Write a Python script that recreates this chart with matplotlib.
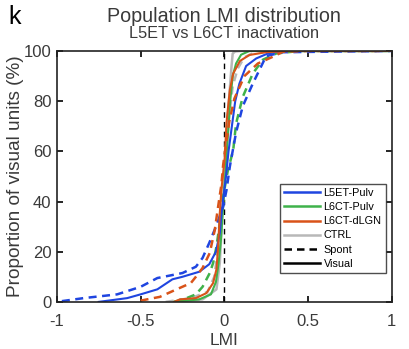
import matplotlib
matplotlib.use('Agg')
import matplotlib.pyplot as plt
from matplotlib.lines import Line2D

plt.rcParams['font.family'] = ['Liberation Sans', 'DejaVu Sans']

# cumulative distributions (LMI, % of units)
l5_vis_x = [-0.75, -0.58, -0.50, -0.40, -0.31, -0.25, -0.15, -0.09, -0.05, -0.027, -0.017, -0.005, 0.01, 0.025, 0.045, 0.065, 0.09, 0.13, 0.19, 0.26, 0.35, 1.0]
l5_vis_y = [0, 1.5, 3, 5, 9, 10, 12, 15, 20, 27.5, 35, 42, 50, 60, 70, 80, 87, 94, 97, 99, 100, 100]
l5_spo_x = [-0.97, -0.84, -0.64, -0.50, -0.40, -0.25, -0.17, -0.13, -0.09, -0.05, -0.007, 0.013, 0.033, 0.07, 0.11, 0.17, 0.25, 0.35, 1.0]
l5_spo_y = [0.3, 1.5, 3, 6, 9.5, 11.5, 14, 17.5, 23.5, 30, 38, 44.6, 54, 67.5, 78, 87, 98, 99.5, 100]

l6p_vis_x = [-0.30, -0.15, -0.08, -0.05, -0.035, -0.02, -0.005, 0.005, 0.015, 0.025, 0.035, 0.05, 0.07, 0.10, 0.15, 1.0]
l6p_vis_y = [0, 1, 3, 8, 15, 25, 40, 50, 60, 70, 80, 90, 95, 98.5, 100, 100]
l6p_spo_x = [-0.30, -0.225, -0.17, -0.13, -0.087, -0.067, -0.047, -0.027, -0.007, 0.02, 0.053, 0.07, 0.11, 0.17, 0.23, 0.31, 0.45, 1.0]
l6p_spo_y = [0, 1.5, 3, 6, 11.5, 15.5, 22, 31.5, 42, 52, 60.5, 71, 81.7, 91, 96.5, 99, 100, 100]

l6d_vis_x = [-0.30, -0.265, -0.17, -0.107, -0.067, -0.047, -0.037, -0.027, -0.017, 0.003, 0.013, 0.033, 0.053, 0.093, 0.15, 0.25, 0.40, 1.0]
l6d_vis_y = [0, 1, 1.5, 3.5, 7.5, 13, 22, 35.5, 45, 58, 71.5, 84.5, 91, 96, 98.4, 99.5, 100, 100]
l6d_spo_x = [-0.50, -0.385, -0.285, -0.20, -0.17, -0.13, -0.087, -0.057, -0.037, -0.017, -0.007, 0.01, 0.03, 0.06, 0.12, 0.20, 0.29, 0.35, 0.50, 0.93]
l6d_spo_y = [0.5, 2, 5, 7.5, 10, 13.5, 19.5, 28.7, 38, 47, 54.6, 63, 72, 81, 90, 95, 97.7, 99.7, 100, 100]

ctrl_vis_x = [-0.30, -0.13, -0.047, -0.027, -0.012, 0.0, 0.01, 0.02, 0.033, 0.043, 0.05, 0.065, 0.10, 1.0]
ctrl_vis_y = [0, 1, 5, 15.5, 35, 50, 62, 74, 85, 94, 99, 99.8, 100, 100]
ctrl_spo_x = [-0.35, -0.20, -0.10, -0.06, -0.035, -0.015, 0.0, 0.015, 0.03, 0.05, 0.08, 0.12, 0.20, 1.0]
ctrl_spo_y = [0, 1.5, 4, 10, 22, 38, 50, 63, 75, 86, 93, 97.5, 100, 100]

labels = ['L5ET-Pulv', 'L6CT-Pulv', 'L6CT-dLGN', 'CTRL', 'Spont', 'Visual']

blue = '#1f45e0'
green = '#3fb24a'
orange = '#d95319'
gray = '#b8b8b8'
txt = '#3a3a3a'

fig = plt.figure(figsize=(4.09, 3.49), dpi=100)
ax = fig.add_axes([0.139, 0.135, 0.819, 0.719])

dash = (0, (3.2, 2.2))
ax.plot([0, 0], [0, 100], color='k', lw=1.0, ls=(0, (4, 3)), zorder=1)

ax.plot(ctrl_spo_x, ctrl_spo_y, color=gray, lw=1.8, ls=dash)
ax.plot(ctrl_vis_x, ctrl_vis_y, color=gray, lw=1.8)
ax.plot(l6p_spo_x, l6p_spo_y, color=green, lw=1.8, ls=dash)
ax.plot(l6p_vis_x, l6p_vis_y, color=green, lw=1.5)
ax.plot(l5_spo_x, l5_spo_y, color=blue, lw=1.8, ls=dash)
ax.plot(l5_vis_x, l5_vis_y, color=blue, lw=1.5)
ax.plot(l6d_spo_x, l6d_spo_y, color=orange, lw=1.8, ls=dash)
ax.plot(l6d_vis_x, l6d_vis_y, color=orange, lw=1.5)

ax.set_xlim(-1, 1)
ax.set_ylim(0, 100)
ax.set_xticks([-1, -0.5, 0, 0.5, 1])
ax.set_xticklabels(['-1', '-0.5', '0', '0.5', '1'])
ax.set_yticks([0, 20, 40, 60, 80, 100])
ax.tick_params(direction='in', top=True, right=True, length=4, width=1.2,
               labelsize=12, labelcolor=txt)
ax.tick_params(axis='x', pad=8.5)
ax.tick_params(axis='y', pad=4)
for s in ax.spines.values():
    s.set_linewidth(1.2)
    s.set_color('#222222')

ax.set_xlabel('LMI', fontsize=12.5, color=txt, labelpad=3)
ax.set_ylabel('Proportion of visual units (%)', fontsize=13.7, color=txt, labelpad=0)

fig.text(0.548, 0.953, 'Population LMI distribution', ha='center', va='center',
         fontsize=14.2, color=txt)
fig.text(0.548, 0.904, 'L5ET vs L6CT inactivation', ha='center', va='center',
         fontsize=11.7, color=txt)
fig.text(0.02, 0.952, 'k', ha='left', va='center', fontsize=18, color='k')

handles = [
    Line2D([], [], color=blue, lw=1.8),
    Line2D([], [], color=green, lw=1.8),
    Line2D([], [], color=orange, lw=1.8),
    Line2D([], [], color=gray, lw=1.8),
    Line2D([], [], color='k', lw=1.8, ls=(0, (3, 2))),
    Line2D([], [], color='k', lw=1.8),
]
leg = ax.legend(handles, labels, loc='lower right', bbox_to_anchor=(0.982, 0.115),
                fontsize=7.8, frameon=True, fancybox=False, handlelength=3.3,
                handletextpad=0.3, labelspacing=0.38, borderpad=0.4,
                borderaxespad=0)
leg.get_frame().set_edgecolor('#222222')
leg.get_frame().set_linewidth(1.0)

fig.savefig('out.png', dpi=100)
